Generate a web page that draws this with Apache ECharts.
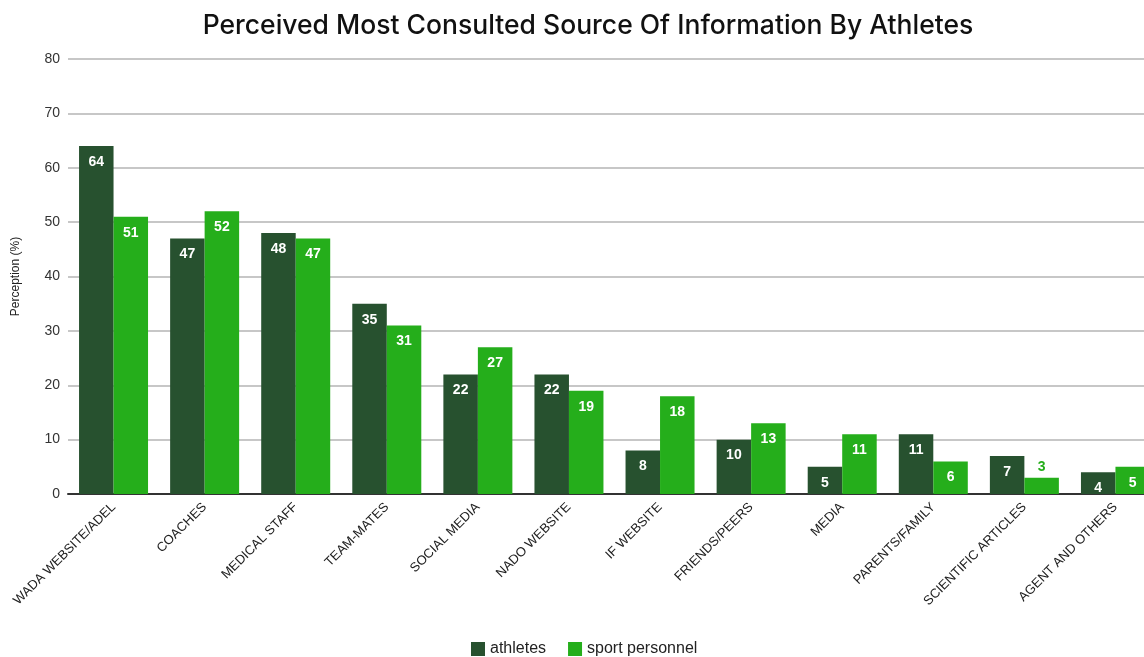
<!DOCTYPE html>
<html>
<head>
<meta charset="utf-8">
<script src="https://cdn.jsdelivr.net/npm/echarts@6/dist/echarts.min.js"></script>
<style>
  html, body { margin: 0; padding: 0; background: #fff; overflow: hidden; width: 1144px; height: 657px; }
  /* the plot runs past the right edge of the page */
  #chart { width: 1161px; height: 657px; }
</style>
</head>
<body>
<div id="chart"></div>
<script>
// Source categories shown along the x axis
const categories = [
  'WADA WEBSITE/ADEL', 'COACHES', 'MEDICAL STAFF', 'TEAM-MATES', 'SOCIAL MEDIA',
  'NADO WEBSITE', 'IF WEBSITE', 'FRIENDS/PEERS', 'MEDIA', 'PARENTS/FAMILY',
  'SCIENTIFIC ARTICLES', 'AGENT AND OTHERS'
];
// Perception (%) per group
const athletes = [64, 47, 48, 35, 22, 22, 8, 10, 5, 11, 7, 4];
const sportPersonnel = [51, 52, 47, 31, 27, 19, 18, 13, 11, 6, 3, 5];
// Y axis ticks
const yMin = 0, yMax = 80, yStep = 10;

const DARK = '#27512f';
const LIGHT = '#25ae1b';
const TXT = 'Liberation Sans, Arial, sans-serif';

// Bars too short to hold their label get it placed above in the bar colour
function withLabels(values, color) {
  return values.map(v => v < 4
    ? { value: v, label: { position: 'top', color: color, distance: 4 } }
    : v);
}

const chart = echarts.init(document.getElementById('chart'), null, { renderer: 'canvas' });
chart.setOption({
  animation: false,
  backgroundColor: '#ffffff',
  title: {
    text: 'Perceived Most Consulted Source Of Information By Athletes',
    left: 583,
    textAlign: 'center',
    top: 8,
    textStyle: { fontFamily: 'Inter, sans-serif', fontSize: 26.5, fontWeight: 500, color: '#111' }
  },
  legend: {
    bottom: -5,
    left: 466,
    itemWidth: 14,
    itemHeight: 14,
    itemGap: 22,
    icon: 'rect',
    textStyle: { fontFamily: TXT, fontSize: 16, color: '#222' },
    data: ['athletes', 'sport personnel']
  },
  grid: { left: 68, right: 0, top: 59, bottom: 163, containLabel: false },
  xAxis: {
    type: 'category',
    data: categories,
    axisTick: { show: false },
    axisLine: { lineStyle: { color: '#333', width: 2 } },
    axisLabel: { rotate: 45, interval: 0, margin: 11, fontFamily: TXT, fontSize: 13, color: '#222' }
  },
  yAxis: {
    type: 'value',
    min: yMin, max: yMax, interval: yStep,
    name: 'Perception (%)',
    nameLocation: 'middle',
    nameGap: 46,
    nameTextStyle: { fontFamily: TXT, fontSize: 12, color: '#222' },
    axisLine: { show: false },
    axisTick: { show: false },
    axisLabel: { margin: 8, fontFamily: TXT, fontSize: 14, color: '#333' },
    splitLine: { lineStyle: { color: '#b5b5b5', width: 1.5 } }
  },
  series: [
    {
      name: 'athletes',
      type: 'bar',
      data: withLabels(athletes, DARK),
      barWidth: 34.5,
      barGap: '0%',
      itemStyle: { color: DARK },
      label: {
        show: true, position: 'insideTop', distance: 9,
        color: '#fff', fontFamily: TXT, fontWeight: 'bold', fontSize: 14
      }
    },
    {
      name: 'sport personnel',
      type: 'bar',
      data: withLabels(sportPersonnel, LIGHT),
      barWidth: 34.5,
      barGap: '0%',
      itemStyle: { color: LIGHT },
      label: {
        show: true, position: 'insideTop', distance: 9,
        color: '#fff', fontFamily: TXT, fontWeight: 'bold', fontSize: 14
      }
    }
  ]
});
</script>
</body>
</html>
